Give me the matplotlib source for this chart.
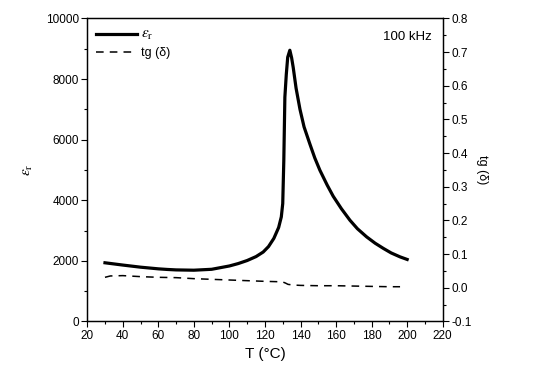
import matplotlib.pyplot as plt
from matplotlib.ticker import MultipleLocator
from matplotlib.lines import Line2D

plt.rcParams['font.family'] = ['Liberation Sans', 'DejaVu Sans']
plt.rcParams['mathtext.fontset'] = 'stix'

# dielectric permittivity vs temperature
t_eps = [30, 40, 50, 60, 65, 70, 80, 90, 100, 105, 110, 115, 119, 122, 125, 127.7,
         129.2, 130, 130.6, 131.2, 132, 132.8, 134, 135, 135.9, 137.5, 139.7, 142,
         145.3, 148, 150.9, 155, 158.4, 163, 167.8, 172, 177.2, 182, 186.6, 191,
         196, 200]
eps_r = [1935, 1860, 1790, 1735, 1715, 1700, 1690, 1720, 1830, 1910, 2010, 2140,
         2290, 2470, 2740, 3100, 3450, 3890, 5300, 7400, 8150, 8720, 8950, 8700,
         8380, 7700, 7000, 6420, 5850, 5400, 4990, 4500, 4130, 3720, 3340, 3060,
         2790, 2580, 2410, 2260, 2130, 2045]

# loss tangent
t_tg = [30, 33, 40, 50, 60, 70, 80, 90, 100, 110, 120, 127, 129.6, 131.5, 133,
        136, 140, 150, 160, 170, 180, 190, 196]
tg_d = [0.031, 0.035, 0.036, 0.033, 0.031, 0.030, 0.027, 0.025, 0.023, 0.021,
        0.019, 0.018, 0.018, 0.014, 0.010, 0.008, 0.007, 0.006, 0.006, 0.005,
        0.004, 0.003, 0.003]

fig = plt.figure(figsize=(5.35, 3.84), dpi=100)
ax = fig.add_axes([0.163, 0.163, 0.6645, 0.789])
ax2 = ax.twinx()

ax.plot(t_eps, eps_r, color='black', lw=2.3, solid_joinstyle='round')
ax2.plot(t_tg, tg_d, color='black', lw=1.1, dashes=(5, 4))

ax.set_xlim(20, 220)
ax.set_ylim(0, 10000)
ax2.set_ylim(-0.1, 0.8)

ax.xaxis.set_major_locator(MultipleLocator(20))
ax.xaxis.set_minor_locator(MultipleLocator(10))
ax.yaxis.set_major_locator(MultipleLocator(2000))
ax.yaxis.set_minor_locator(MultipleLocator(1000))
ax2.yaxis.set_major_locator(MultipleLocator(0.1))
ax2.yaxis.set_minor_locator(MultipleLocator(0.05))
ax2.yaxis.set_major_formatter(plt.FuncFormatter(lambda v, p: '%.1f' % v))

for a in (ax, ax2):
    a.tick_params(which='major', length=4, width=0.8, labelsize=8.5, pad=2)
    a.tick_params(which='minor', length=2.5, width=0.8)
    for s in a.spines.values():
        s.set_linewidth(0.9)

ax.set_xlabel('T (°C)', fontsize=11)
ax.set_ylabel(r'$\varepsilon_\mathrm{r}$', fontsize=11, labelpad=8)
ax2.set_ylabel('tg (δ)', fontsize=9, rotation=-90, labelpad=12)

ax.text(0.97, 0.94, '100 kHz', transform=ax.transAxes, ha='right', va='center',
        fontsize=9.5)

handles = [Line2D([], [], color='black', lw=2.3),
           Line2D([], [], color='black', lw=1.1, dashes=(5, 4))]
leg = ax.legend(handles, [r'$\varepsilon_\mathrm{r}$', 'tg (δ)'],
                loc='upper left', frameon=False, fontsize=9, handlelength=3.3,
                handletextpad=0.3, borderaxespad=0.3, labelspacing=0.4)
leg.get_texts()[0].set_fontsize(11)

fig.savefig('out.png', dpi=100)
